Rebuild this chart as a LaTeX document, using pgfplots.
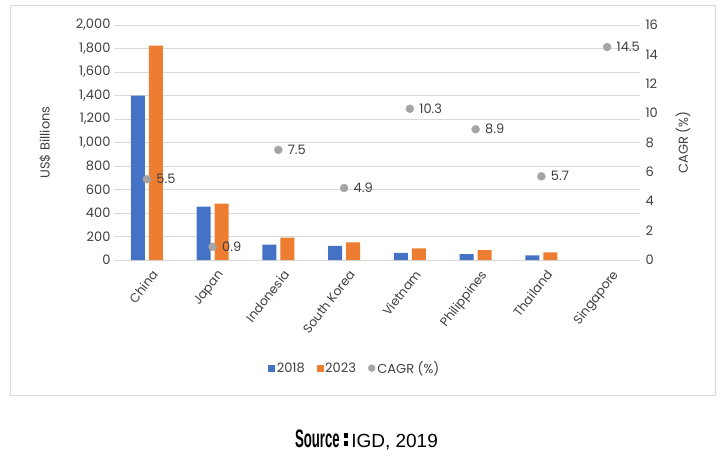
\documentclass[border=0pt]{standalone}
\usepackage{pgfplots}
\usepackage{pgfplotstable}
\pgfplotsset{compat=1.18}
\usepackage{fontspec}
\setmainfont{Poppins}
\newfontfamily\srcfont{Liberation Sans}
\definecolor{c18}{HTML}{4472C4}
\definecolor{c23}{HTML}{ED7D31}
\definecolor{cg}{HTML}{A5A5A5}
\definecolor{gridc}{HTML}{D9D9D9}
\definecolor{txt}{HTML}{404040}

\pgfplotstableread{
x y18 y23 cagr
0 1400 1825 5.5
1 455 480 0.9
2 130 190 7.5
3 120 150 4.9
4 60 100 10.3
5 50 85 8.9
6 40 65 5.7
7 nan nan 14.5
}\data

\pgfplotsset{
  base/.style={
    scale only axis, width=526pt, height=235pt,
    xmin=-0.5, xmax=7.5,
    axis line style={draw=none},
    tick style={draw=none},
    /pgf/number format/assume math mode=true,
  },
}

\begin{document}
\begin{tikzpicture}
\begin{axis}[base,
  ymin=0, ymax=2000, ytick={0,200,...,2000},
  yticklabel style={font=\fontsize{13}{15}\selectfont, text=txt, /pgf/number format/.cd, 1000 sep={,}},
  ymajorgrids, grid style={gridc, line width=0.9pt},
  xtick={0,...,7},
  xticklabels={China,Japan,Indonesia,South Korea,Vietnam,Philippines,Thailand,Singapore},
  xticklabel style={font=\fontsize{12.5}{15}\selectfont, text=txt, rotate=52, anchor=north east, inner sep=1pt, xshift=0pt, yshift=-5pt},
  ylabel={US\$ Billions},
  ylabel style={at={(axis description cs:-0.131,0.5)}, anchor=center, font=\fontsize{13}{15}\selectfont, text=txt},
  ybar=4pt, bar width=14pt,
]
\addplot[fill=c18, draw=none] table[x=x, y=y18] {\data};
\addplot[fill=c23, draw=none] table[x=x, y=y23] {\data};
\end{axis}
\begin{axis}[base,
  clip=false,
  axis y line*=right, axis x line=none,
  ymin=0, ymax=16, ytick={0,2,...,16},
  yticklabel style={xshift=2pt, font=\fontsize{13}{15}\selectfont, text=txt},
  ylabel={CAGR (\%)},
  every axis y label/.style={at={(axis description cs:1.082,0.5)}, rotate=90, anchor=center,
    font=\fontsize{13}{15}\selectfont, text=txt},
  legend style={at={(axis description cs:0.458,-0.46)}, anchor=center, draw=none, fill=none,
    legend columns=3, font=\fontsize{13}{15}\selectfont, text=txt,
    /tikz/every even column/.append style={column sep=10pt},
    legend cell align=left},
]
\addlegendimage{legend image code/.code={\fill[c18] (6pt,-3pt) rectangle (12pt,3pt);}}
\addlegendentry{2018}
\addlegendimage{legend image code/.code={\fill[c23] (6pt,-3pt) rectangle (12pt,3pt);}}
\addlegendentry{2023}
\addlegendimage{legend image code/.code={\fill[cg] (9pt,0pt) circle (3.5pt);}}
\addlegendentry{CAGR (\%)}
\addplot[only marks, mark=*, mark size=4pt, color=cg,
  nodes near coords, point meta=explicit symbolic,
  nodes near coords style={anchor=west, xshift=6pt, text=txt, font=\fontsize{13}{15}\selectfont}]
  table[x=x, y=cagr, meta=cagr] {\data};
% outer frame of the chart
\draw[gridc, line width=0.9pt] (axis description cs:-0.1977,1.0851) rectangle (axis description cs:1.1426,-0.5745);
% page extent
\path (axis description cs:-0.2167,1.1064) rectangle (axis description cs:1.154,-0.8468);
\node[anchor=center, text=black, inner sep=0pt] at (axis description cs:0.48,-0.766)
  {\scalebox{0.6}[1.15]{\srcfont\bfseries\fontsize{22}{22}\selectfont Source}\hspace{4pt}\rule[2pt]{4.5pt}{4.5pt}\hspace{-4.5pt}\rule[10pt]{4.5pt}{4.5pt}\hspace{3pt}{\srcfont\fontsize{19}{21}\selectfont IGD, 2019}};
\end{axis}
\end{tikzpicture}
\end{document}
